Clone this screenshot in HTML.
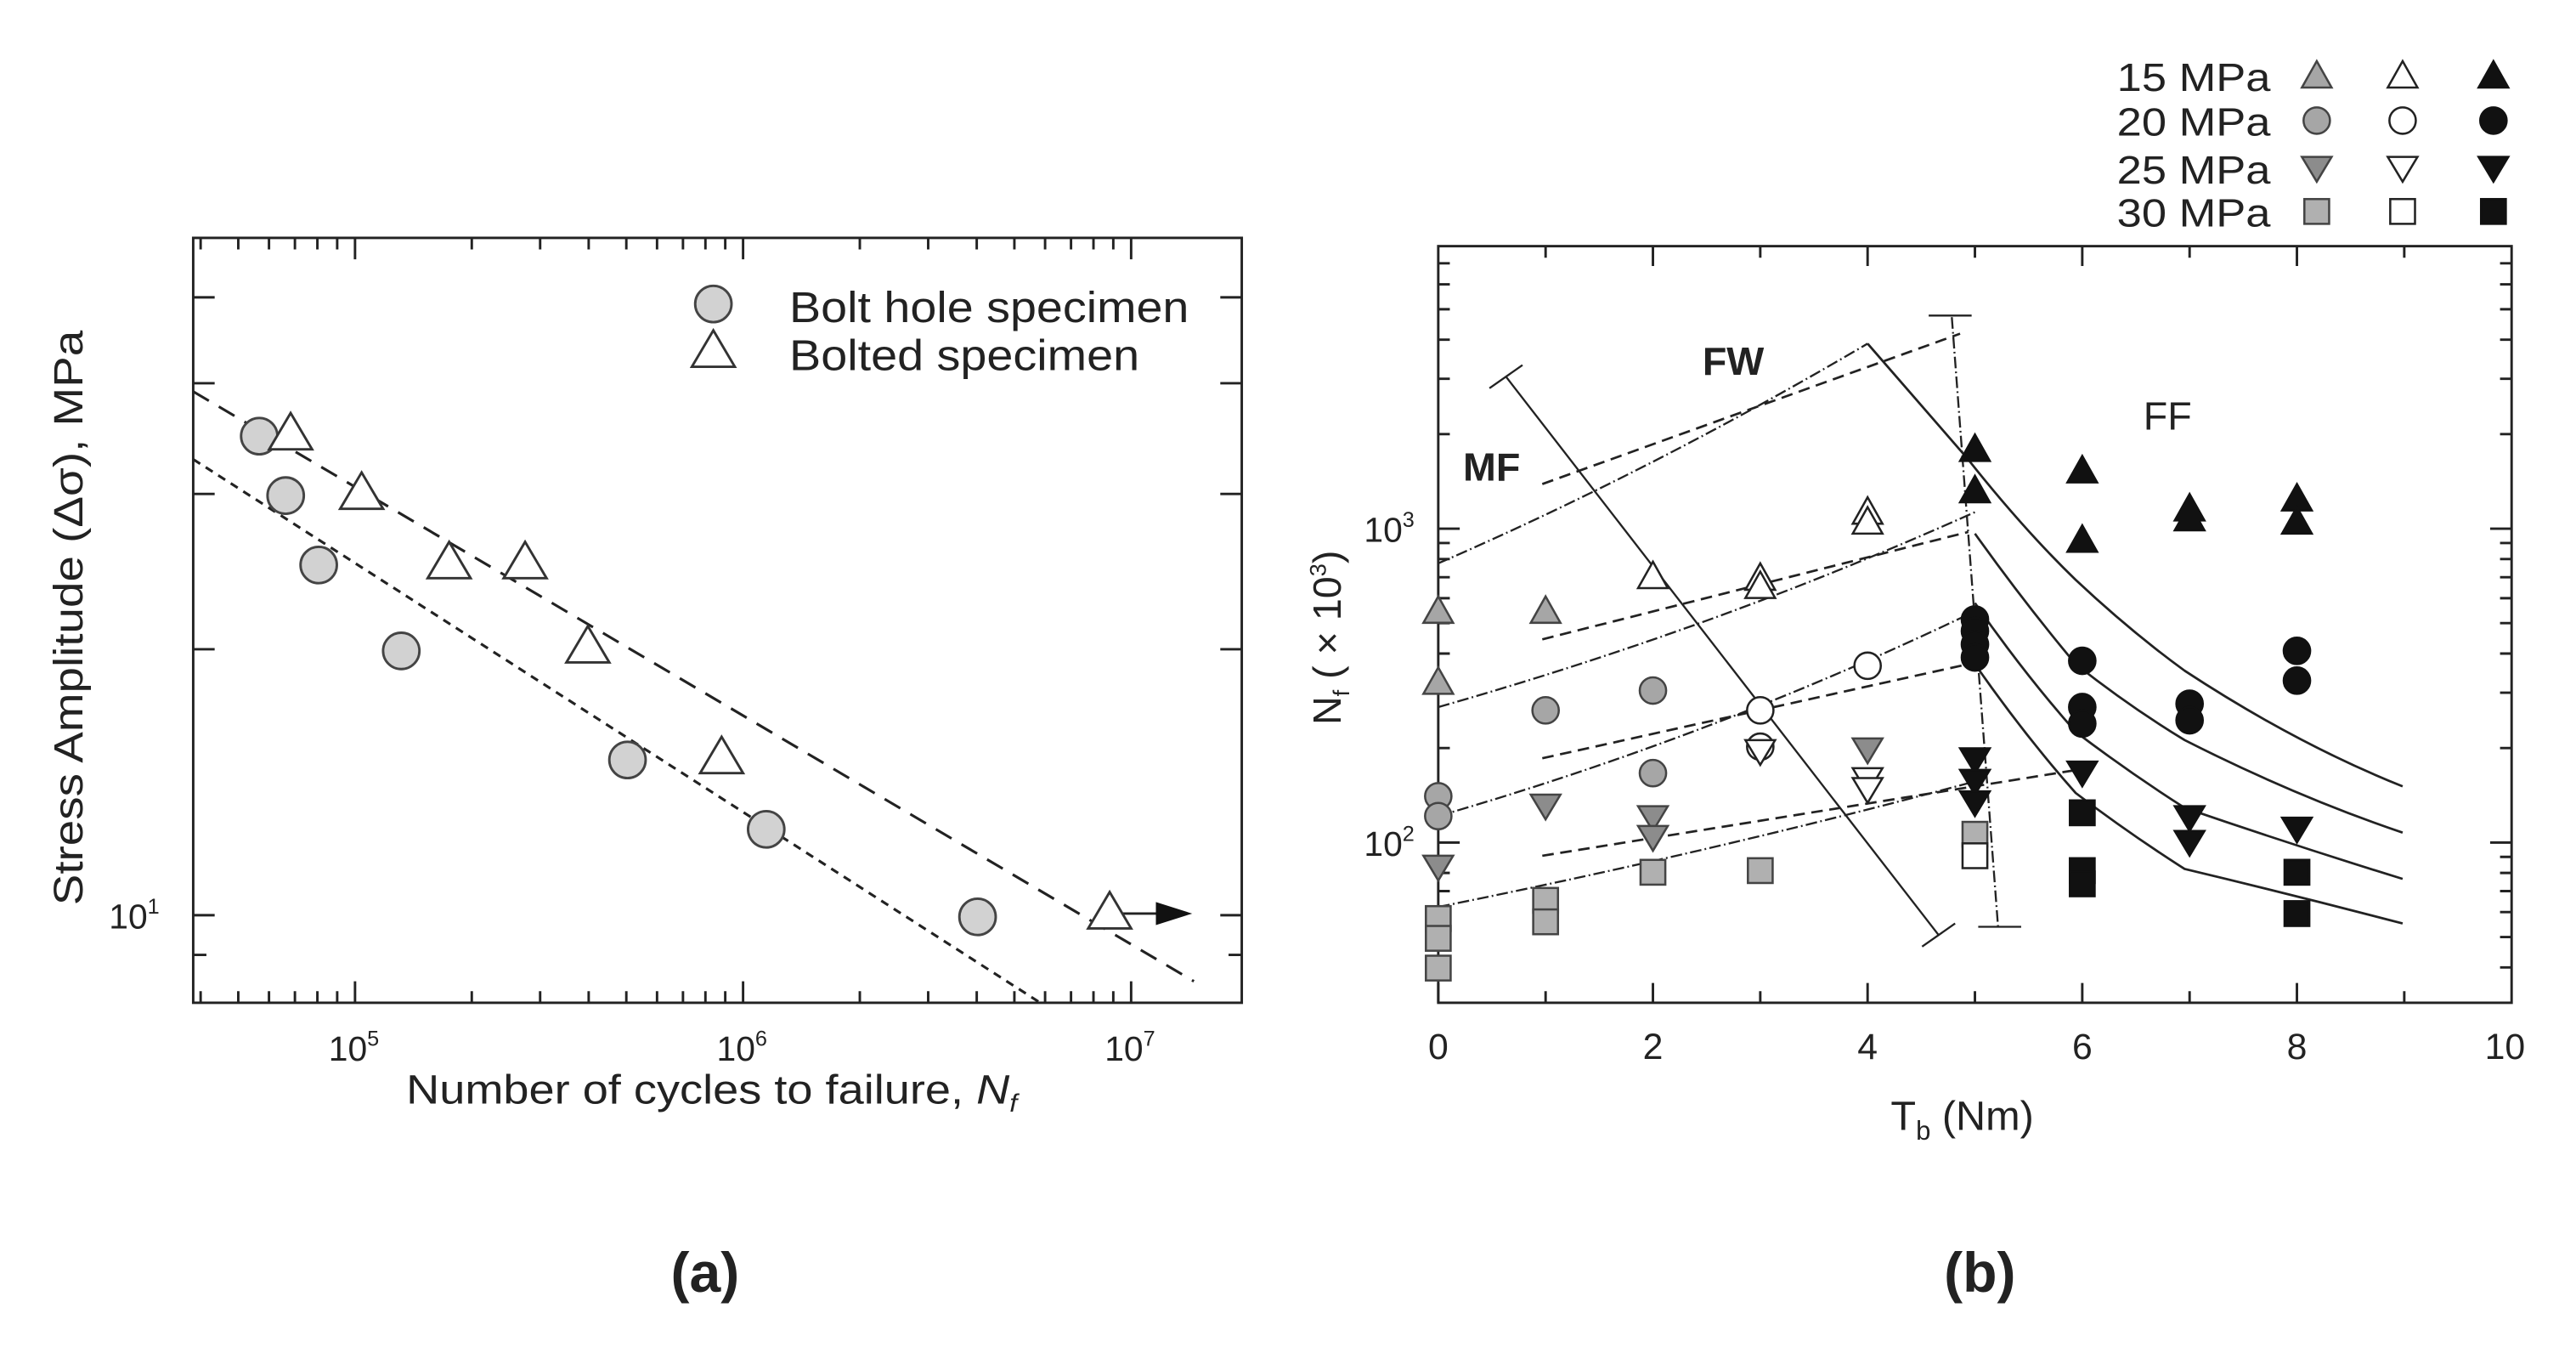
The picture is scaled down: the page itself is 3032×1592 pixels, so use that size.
<!DOCTYPE html>
<html><head><meta charset="utf-8"><style>
html,body{margin:0;padding:0;background:#fff;}
svg{display:block;}
text{font-family:"Liberation Sans",Arial,sans-serif;fill:#222;}
</style></head><body>
<svg width="3032" height="1592" viewBox="0 0 1560 819" preserveAspectRatio="none" xmlns="http://www.w3.org/2000/svg">
<defs>
<polygon id="Ltri" points="0,-12 13,10 -13,10" fill="#fff" stroke="#333" stroke-width="1.5"/>
<circle id="Lcir" r="11" fill="#d2d2d2" stroke="#444" stroke-width="1.5"/>
<polygon id="gtu" points="0,-9 9,7 -9,7" fill="#a6a6a6" stroke="#444" stroke-width="1.3"/>
<polygon id="htu" points="0,-9 9,7 -9,7" fill="#fff" stroke="#222" stroke-width="1.3"/>
<polygon id="btu" points="0,-9 9,7 -9,7" fill="#111" stroke="#111" stroke-width="1.3"/>
<circle id="gc" r="8" fill="#a6a6a6" stroke="#444" stroke-width="1.3"/>
<circle id="hc" r="8" fill="#fff" stroke="#222" stroke-width="1.3"/>
<circle id="bc" r="8" fill="#111" stroke="#111" stroke-width="1.3"/>
<polygon id="gtd" points="0,8 9,-7 -9,-7" fill="#8c8c8c" stroke="#444" stroke-width="1.3"/>
<polygon id="htd" points="0,8 9,-7 -9,-7" fill="#fff" stroke="#222" stroke-width="1.3"/>
<polygon id="btd" points="0,8 9,-7 -9,-7" fill="#111" stroke="#111" stroke-width="1.3"/>
<rect id="gs" x="-7.5" y="-7.5" width="15" height="15" fill="#b0b0b0" stroke="#444" stroke-width="1.3"/>
<rect id="hs" x="-7.5" y="-7.5" width="15" height="15" fill="#fff" stroke="#222" stroke-width="1.3"/>
<rect id="bs" x="-7.5" y="-7.5" width="15" height="15" fill="#111" stroke="#111" stroke-width="1.3"/>
</defs>

<!-- ============ LEFT PLOT ============ -->
<g stroke="#222" stroke-width="1.5" fill="none">
<rect x="117" y="144" width="635" height="463"/>
<path d="M121.5,607v-7M144.3,607v-7M162.9,607v-7M178.6,607v-7M192.2,607v-7M204.2,607v-7M215,607v-13M285.7,607v-7M327.1,607v-7M356.5,607v-7M379.3,607v-7M397.9,607v-7M413.6,607v-7M427.2,607v-7M439.2,607v-7M450,607v-13M520.7,607v-7M562.1,607v-7M591.5,607v-7M614.3,607v-7M632.9,607v-7M648.6,607v-7M662.2,607v-7M674.2,607v-7M685,607v-13
M121.5,144v7M144.3,144v7M162.9,144v7M178.6,144v7M192.2,144v7M204.2,144v7M215,144v13M285.7,144v7M327.1,144v7M356.5,144v7M379.3,144v7M397.9,144v7M413.6,144v7M427.2,144v7M439.2,144v7M450,144v13M520.7,144v7M562.1,144v7M591.5,144v7M614.3,144v7M632.9,144v7M648.6,144v7M662.2,144v7M674.2,144v7M685,144v13"/>
<path d="M117,578h8M117,554h13M117,393h13M117,299h13M117,232h13M117,180h13
M752,578h-8M752,554h-13M752,393h-13M752,299h-13M752,232h-13M752,180h-13"/>
<path d="M117,237 L723,594" stroke-dasharray="11,7" stroke-width="1.6"/>
<path d="M117,278 L630,607" stroke-dasharray="5,4" stroke-width="1.6"/>
<path d="M672,553 H705"/>
</g>
<polygon points="722,553 700,546 700,560" fill="#111"/>
<use href="#Lcir" x="157" y="264"/><use href="#Lcir" x="173" y="300"/><use href="#Lcir" x="193" y="342"/>
<use href="#Lcir" x="243" y="394"/><use href="#Lcir" x="380" y="460"/><use href="#Lcir" x="464" y="502"/><use href="#Lcir" x="592" y="555"/>
<use href="#Ltri" x="176" y="262"/><use href="#Ltri" x="219" y="298"/><use href="#Ltri" x="272" y="340"/>
<use href="#Ltri" x="318" y="340"/><use href="#Ltri" x="356" y="391"/><use href="#Ltri" x="437" y="458"/><use href="#Ltri" x="672" y="552"/>
<use href="#Lcir" x="432" y="184"/><use href="#Ltri" x="432" y="212"/>
<text x="478" y="195" font-size="26" textLength="242" lengthAdjust="spacingAndGlyphs">Bolt hole specimen</text>
<text x="478" y="224" font-size="26" textLength="212" lengthAdjust="spacingAndGlyphs">Bolted specimen</text>
<text x="66" y="562" font-size="21">10<tspan font-size="13" dy="-9">1</tspan></text>
<text x="199" y="642" font-size="21">10<tspan font-size="13" dy="-9">5</tspan></text>
<text x="434" y="642" font-size="21">10<tspan font-size="13" dy="-9">6</tspan></text>
<text x="669" y="642" font-size="21">10<tspan font-size="13" dy="-9">7</tspan></text>
<text x="246" y="668" font-size="25" textLength="370" lengthAdjust="spacingAndGlyphs">Number of cycles to failure,  <tspan font-style="italic">N</tspan><tspan font-style="italic" font-size="15" dy="5">f</tspan></text>
<text transform="translate(50,374) rotate(-90)" text-anchor="middle" font-size="25" textLength="348" lengthAdjust="spacingAndGlyphs">Stress Amplitude (Δσ),  MPa</text>

<!-- ============ RIGHT PLOT ============ -->
<g stroke="#222" stroke-width="1.5" fill="none">
<rect x="871" y="149" width="650" height="458"/>
<path d="M871,607v-12M936,607v-7M1001,607v-12M1066,607v-7M1131,607v-12M1196,607v-7M1261,607v-12M1326,607v-7M1391,607v-12M1456,607v-7
M936,149v7M1001,149v12M1066,149v7M1131,149v12M1196,149v7M1261,149v12M1326,149v7M1391,149v12M1456,149v7"/>
<path d="M871,585.6h7M871,567.2h7M871,552.1h7M871,539.4h7M871,528.4h7M871,518.7h7M871,510h13M871,452.8h7M871,419.3h7M871,395.6h7M871,377.2h7M871,362.1h7M871,349.4h7M871,338.4h7M871,328.7h7M871,320h13M871,262.8h7M871,229.3h7M871,205.6h7M871,187.2h7M871,172.1h7M871,159.4h7
M1521,585.6h-7M1521,567.2h-7M1521,552.1h-7M1521,539.4h-7M1521,528.4h-7M1521,518.7h-7M1521,510h-13M1521,452.8h-7M1521,419.3h-7M1521,395.6h-7M1521,377.2h-7M1521,362.1h-7M1521,349.4h-7M1521,338.4h-7M1521,328.7h-7M1521,320h-13M1521,262.8h-7M1521,229.3h-7M1521,205.6h-7M1521,187.2h-7M1521,172.1h-7M1521,159.4h-7"/>
</g>
<g fill="none" stroke="#222" stroke-width="1.2">
<path d="M871,341 Q1000,285 1131,208" stroke-dasharray="7,2,1,2"/>
<path d="M871,428 Q1040,380 1196,310" stroke-dasharray="7,2,1,2"/>
<path d="M871,494 Q1040,445 1196,370" stroke-dasharray="7,2,1,2"/>
<path d="M871,549 Q1040,515 1196,473" stroke-dasharray="7,2,1,2"/>
<path d="M934,293 L1187,202" stroke-dasharray="7,4" stroke-width="1.4"/>
<path d="M934,387 L1192,322" stroke-dasharray="7,4" stroke-width="1.4"/>
<path d="M934,459 L1192,402" stroke-dasharray="7,4" stroke-width="1.4"/>
<path d="M934,518 L1258,466" stroke-dasharray="7,4" stroke-width="1.4"/>
<path d="M1131,208 L1191,277 Q1225,320 1257,351 Q1290,382 1323,406 Q1390,450 1455,476" stroke-width="1.4"/>
<path d="M1196,323 Q1226,365 1257,402 Q1290,428 1323,448 Q1390,482 1455,504" stroke-width="1.4"/>
<path d="M1196,365 Q1226,408 1257,443 Q1290,468 1323,489 Q1390,512 1455,532" stroke-width="1.4"/>
<path d="M1196,402 Q1226,445 1257,480 Q1290,505 1323,526 Q1390,542 1455,559" stroke-width="1.4"/>
<path d="M912,228 L1174,566"/>
<path d="M902,235 L922,221M1164,573 L1184,559"/>
<path d="M1182,192 L1210,561" stroke-dasharray="7,2,1,2"/>
<path d="M1168,191 H1194M1198,561 H1224"/>
</g>
<use href="#gtu" x="871" y="370"/><use href="#gtu" x="871" y="413"/><use href="#gtu" x="936" y="370"/>
<use href="#htu" x="1001" y="349"/><use href="#htu" x="1066" y="350"/><use href="#htu" x="1066" y="355"/><use href="#htu" x="1131" y="310"/><use href="#htu" x="1131" y="316"/>
<use href="#btu" x="1196" y="272"/><use href="#btu" x="1196" y="297"/><use href="#btu" x="1261" y="285"/><use href="#btu" x="1261" y="327"/>
<use href="#btu" x="1326" y="308"/><use href="#btu" x="1326" y="314"/><use href="#btu" x="1391" y="302"/><use href="#btu" x="1391" y="316"/>
<use href="#gc" x="871" y="482"/><use href="#gc" x="871" y="494"/><use href="#gc" x="936" y="430"/><use href="#gc" x="1001" y="418"/><use href="#gc" x="1001" y="468"/>
<use href="#hc" x="1066" y="430"/><use href="#hc" x="1066" y="452"/><use href="#hc" x="1131" y="403"/>
<use href="#bc" x="1196" y="375"/><use href="#bc" x="1196" y="382"/><use href="#bc" x="1196" y="390"/><use href="#bc" x="1196" y="398"/>
<use href="#bc" x="1261" y="400"/><use href="#bc" x="1261" y="428"/><use href="#bc" x="1261" y="438"/>
<use href="#bc" x="1326" y="426"/><use href="#bc" x="1326" y="436"/><use href="#bc" x="1391" y="394"/><use href="#bc" x="1391" y="412"/>
<use href="#gtd" x="871" y="525"/><use href="#gtd" x="936" y="488"/><use href="#gtd" x="1001" y="495"/><use href="#gtd" x="1001" y="507"/><use href="#gtd" x="1131" y="454"/>
<use href="#htd" x="1066" y="455"/><use href="#htd" x="1131" y="472"/><use href="#htd" x="1131" y="478"/>
<use href="#btd" x="1196" y="460"/><use href="#btd" x="1196" y="473"/><use href="#btd" x="1196" y="486"/><use href="#btd" x="1261" y="468"/>
<use href="#btd" x="1326" y="495"/><use href="#btd" x="1326" y="510"/><use href="#btd" x="1391" y="502"/>
<use href="#gs" x="871" y="556"/><use href="#gs" x="871" y="568"/><use href="#gs" x="871" y="586"/><use href="#gs" x="936" y="545"/><use href="#gs" x="936" y="558"/>
<use href="#gs" x="1001" y="528"/><use href="#gs" x="1066" y="527"/><use href="#gs" x="1196" y="505"/><use href="#hs" x="1196" y="518"/>
<use href="#bs" x="1261" y="492"/><use href="#bs" x="1261" y="527"/><use href="#bs" x="1261" y="535"/><use href="#bs" x="1391" y="528"/><use href="#bs" x="1391" y="553"/>
<text x="886" y="291" font-size="24" font-weight="bold">MF</text>
<text x="1031" y="227" font-size="24" font-weight="bold">FW</text>
<text x="1298" y="260" font-size="24">FF</text>
<g font-size="24">
<text x="1282" y="55" textLength="93" lengthAdjust="spacingAndGlyphs">15 MPa</text>
<text x="1282" y="82" textLength="93" lengthAdjust="spacingAndGlyphs">20 MPa</text>
<text x="1282" y="111" textLength="93" lengthAdjust="spacingAndGlyphs">25 MPa</text>
<text x="1282" y="137" textLength="93" lengthAdjust="spacingAndGlyphs">30 MPa</text>
</g>
<use href="#gtu" x="1403" y="46"/><use href="#htu" x="1455" y="46"/><use href="#btu" x="1510" y="46"/>
<use href="#gc" x="1403" y="73"/><use href="#hc" x="1455" y="73"/><use href="#bc" x="1510" y="73"/>
<use href="#gtd" x="1403" y="102"/><use href="#htd" x="1455" y="102"/><use href="#btd" x="1510" y="102"/>
<use href="#gs" x="1403" y="128"/><use href="#hs" x="1455" y="128"/><use href="#bs" x="1510" y="128"/>
<g font-size="22" text-anchor="middle">
<text x="871" y="641">0</text><text x="1001" y="641">2</text><text x="1131" y="641">4</text>
<text x="1261" y="641">6</text><text x="1391" y="641">8</text><text x="1517" y="641">10</text>
</g>
<text x="826" y="328" font-size="21">10<tspan font-size="13" dy="-9">3</tspan></text>
<text x="826" y="518" font-size="21">10<tspan font-size="13" dy="-9">2</tspan></text>
<text x="1145" y="684" font-size="25">T<tspan font-size="16" dy="6">b</tspan><tspan dy="-6"> (Nm)</tspan></text>
<text transform="translate(812,386) rotate(-90)" text-anchor="middle" font-size="24">N<tspan font-size="14" dy="5">f</tspan><tspan dy="-5">  ( × 10</tspan><tspan font-size="14" dy="-9">3</tspan><tspan dy="9">)</tspan></text>
<text x="427" y="782" font-size="34" font-weight="bold" text-anchor="middle">(a)</text>
<text x="1199" y="782" font-size="34" font-weight="bold" text-anchor="middle">(b)</text>
</svg>
</body></html>
